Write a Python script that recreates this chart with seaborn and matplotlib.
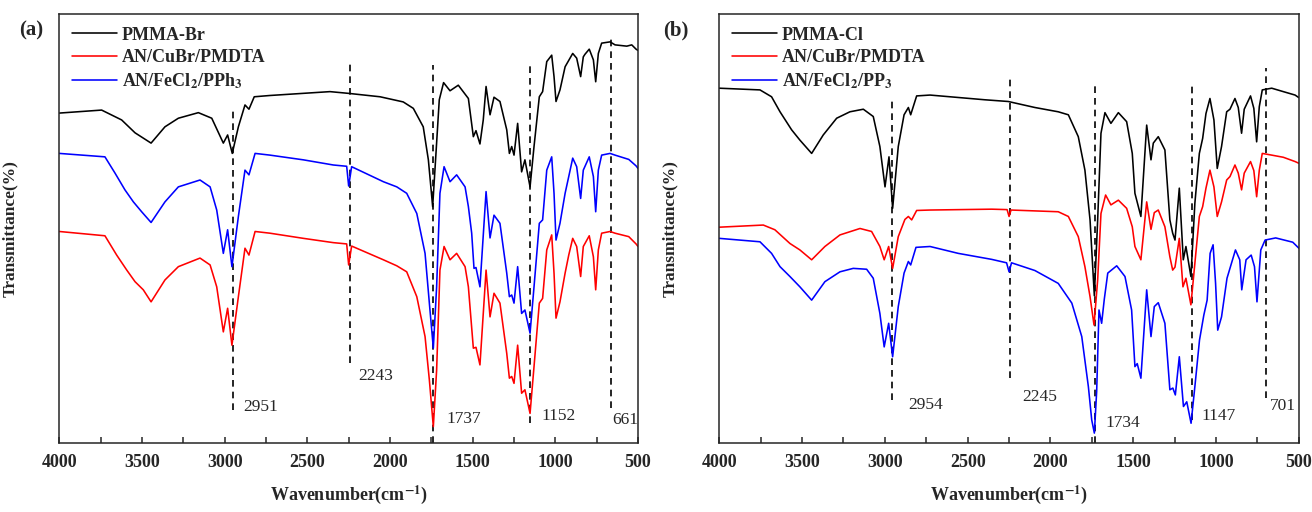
import numpy as np
import pandas as pd
import seaborn as sns
import matplotlib.pyplot as plt
from matplotlib.ticker import MultipleLocator

# %%
# Panel (a) spectra  (wavenumber, transmittance in % of plot height)
a_black_wn = [4000, 3744, 3623, 3542, 3445, 3361, 3280, 3159, 3078, 3008, 2982, 2954, 2917, 2877, 2853, 2821,
              2726, 2363, 2252, 2060, 1920, 1859, 1799, 1768, 1742, 1722, 1702, 1676, 1637, 1587, 1526, 1496,
              1480, 1456, 1436, 1419, 1395, 1371, 1335, 1294, 1278, 1264, 1250, 1228, 1204, 1184, 1153, 1129,
              1097, 1077, 1052, 1022, 1008, 996, 972, 941, 895, 871, 847, 831, 821, 795, 770, 756, 740, 720,
              669, 639, 568, 538, 512, 500]
a_black_t = [76.9, 77.6, 75.3, 72.3, 69.9, 73.7, 75.7, 77.0, 75.7, 69.9, 71.8, 67.5, 73.7, 78.8, 77.8, 80.7,
             81.0, 81.9, 81.5, 80.7, 79.5, 78.0, 73.7, 66.0, 55.1, 67.5, 80.0, 84.0, 82.1, 83.4, 80.3, 71.4,
             72.8, 69.7, 75.3, 83.1, 76.5, 80.6, 79.6, 73.0, 67.5, 69.1, 67.1, 74.5, 63.2, 66.0, 59.7, 69.1,
             80.7, 81.9, 88.9, 90.4, 85.4, 79.6, 82.3, 87.7, 90.8, 89.7, 85.4, 90.0, 90.6, 91.8, 89.3, 84.2, 90.8, 93.2,
             93.5, 92.8, 92.5, 92.8, 91.8, 91.5]

a_blue_wn = [4000, 3724, 3663, 3603, 3552, 3502, 3445, 3361, 3280, 3149, 3088, 3048, 3008, 2982, 2956, 2917,
             2877, 2853, 2816, 2726, 2524, 2343, 2262, 2250, 2232, 2040, 1959, 1899, 1838, 1788, 1762, 1738,
             1718, 1698, 1673, 1637, 1597, 1546, 1526, 1506, 1492, 1480, 1456, 1419, 1395, 1371, 1335, 1294,
             1278, 1264, 1250, 1228, 1204, 1184, 1153, 1129, 1097, 1077, 1052, 1022, 1008, 996, 972, 941,
             919, 895, 871, 847, 831, 795, 770, 756, 740, 720, 669, 639, 556, 512, 500]
a_blue_t = [67.5, 66.7, 62.9, 59.0, 56.2, 53.9, 51.4, 56.2, 59.7, 61.3, 59.7, 54.3, 44.2, 49.7, 41.1, 52.8,
            63.6, 62.5, 67.5, 67.1, 66.0, 64.8, 64.5, 59.9, 64.4, 60.9, 59.7, 58.2, 53.5, 44.2, 32.6, 22.1,
            36.4, 58.2, 64.4, 60.9, 62.5, 59.7, 55.1, 48.9, 40.7, 40.9, 36.4, 58.6, 47.8, 53.1, 51.2, 39.6,
            34.1, 34.5, 32.6, 41.1, 30.2, 31.0, 25.6, 36.4, 51.2, 52.0, 63.6, 66.7, 58.2, 47.3, 51.2, 58.2,
            62.1, 66.4, 64.4, 57.0, 63.6, 66.7, 62.1, 53.9, 63.6, 67.1, 67.5, 67.1, 66.1, 64.6, 64.0]

a_red_wn = [4000, 3724, 3653, 3592, 3542, 3492, 3445, 3361, 3280, 3149, 3088, 3048, 3008, 2982, 2956, 2917,
            2877, 2853, 2816, 2726, 2524, 2343, 2262, 2250, 2232, 2040, 1959, 1899, 1838, 1788, 1762, 1738,
            1718, 1698, 1673, 1637, 1597, 1546, 1526, 1496, 1480, 1456, 1419, 1395, 1371, 1335, 1294, 1278,
            1264, 1250, 1228, 1204, 1184, 1153, 1129, 1097, 1077, 1052, 1022, 1008, 996, 972, 941, 919,
            895, 871, 847, 831, 795, 770, 756, 740, 720, 669, 639, 556, 512, 500]
a_red_t = [49.3, 48.3, 43.8, 40.3, 37.6, 35.7, 32.9, 38.0, 41.1, 43.1, 41.5, 36.4, 25.9, 31.4, 22.8, 34.1,
           45.4, 43.8, 49.3, 48.9, 47.7, 46.7, 46.4, 41.5, 45.9, 42.7, 41.3, 39.9, 34.1, 24.8, 14.7, 3.8,
           17.0, 40.3, 45.8, 42.7, 44.2, 41.1, 36.4, 22.1, 22.3, 18.2, 40.3, 29.4, 34.9, 32.6, 20.9, 15.1,
           15.5, 13.9, 22.8, 11.6, 12.4, 6.9, 17.8, 32.6, 33.7, 45.0, 48.5, 39.6, 29.1, 32.9, 39.6, 43.8,
           47.7, 45.8, 38.8, 45.8, 48.3, 43.4, 35.7, 45.0, 48.9, 49.3, 48.9, 48.1, 46.4, 45.8]

# Panel (b) spectra
b_black_wn = [4000, 3754, 3684, 3633, 3563, 3513, 3442, 3372, 3291, 3211, 3130, 3070, 3030, 2999, 2975, 2953,
              2919, 2884, 2858, 2844, 2808, 2727, 2396, 2255, 2094, 1953, 1892, 1832, 1792, 1761, 1735, 1715,
              1695, 1671, 1635, 1590, 1540, 1506, 1490, 1454, 1419, 1393, 1379, 1349, 1309, 1279, 1262, 1248,
              1222, 1198, 1182, 1152, 1128, 1101, 1081, 1061, 1037, 1013, 993, 967, 936, 916, 886, 866,
              846, 830, 792, 772, 755, 739, 721, 664, 594, 523, 500]
b_black_t = [82.7, 82.3, 80.7, 77.2, 73.0, 70.6, 67.5, 71.8, 75.7, 77.2, 77.8, 76.1, 69.1, 59.7, 66.7, 54.7,
             69.1, 76.5, 78.2, 76.5, 80.9, 81.1, 80.0, 79.6, 78.2, 77.2, 76.5, 71.4, 63.6, 52.0, 34.3, 52.0,
             72.2, 77.0, 74.5, 77.0, 74.9, 67.5, 58.2, 52.8, 74.1, 66.0, 69.9, 71.4, 68.3, 52.0, 48.9, 47.3,
             59.4, 42.7, 45.8, 38.8, 55.9, 67.5, 71.0, 76.8, 80.3, 75.3, 64.0, 69.1, 77.2, 77.8, 80.3, 78.2,
             72.2, 77.8, 80.9, 78.0, 70.2, 78.4, 82.3, 82.7, 81.9, 81.1, 80.5]

b_red_wn = [4000, 3734, 3664, 3573, 3513, 3442, 3362, 3271, 3150, 3080, 3030, 3004, 2977, 2953, 2919, 2879,
            2858, 2838, 2808, 2727, 2355, 2262, 2250, 2238, 1953, 1892, 1832, 1792, 1761, 1737, 1715, 1695,
            1667, 1635, 1590, 1540, 1506, 1490, 1454, 1419, 1393, 1373, 1349, 1309, 1279, 1262, 1248, 1222,
            1200, 1182, 1152, 1128, 1101, 1081, 1061, 1037, 1013, 993, 967, 936, 916, 886, 866, 846,
            830, 792, 772, 755, 739, 721, 664, 594, 523, 500]
b_red_t = [50.3, 50.8, 49.7, 46.5, 45.0, 42.7, 45.8, 48.5, 50.0, 49.3, 45.8, 42.7, 45.8, 40.7, 48.1, 52.1,
           52.8, 52.0, 54.2, 54.3, 54.5, 54.4, 52.8, 54.3, 53.9, 52.8, 48.1, 41.1, 34.1, 27.5, 38.0, 53.5,
           57.8, 55.5, 56.6, 54.7, 50.4, 45.8, 42.7, 56.2, 49.8, 53.7, 54.3, 50.4, 43.4, 40.3, 41.0, 47.7,
           36.4, 38.4, 32.2, 41.9, 52.8, 55.1, 59.4, 63.6, 59.7, 52.8, 56.2, 61.3, 62.1, 64.8, 62.9, 59.0,
           62.9, 65.6, 63.5, 57.4, 63.6, 67.5, 67.1, 66.6, 65.6, 65.2]

b_blue_wn = [4000, 3754, 3684, 3633, 3573, 3513, 3442, 3362, 3271, 3191, 3110, 3070, 3030, 3004, 2977, 2953,
             2919, 2884, 2858, 2844, 2812, 2727, 2557, 2355, 2265, 2250, 2235, 2094, 1953, 1871, 1811, 1771,
             1751, 1735, 1721, 1707, 1691, 1675, 1654, 1600, 1550, 1510, 1490, 1476, 1454, 1419, 1393, 1373,
             1349, 1309, 1279, 1261, 1246, 1222, 1197, 1177, 1151, 1126, 1100, 1074, 1054, 1036, 1018, 1003,
             990, 967, 934, 883, 857, 845, 819, 788, 768, 753, 730, 704, 640, 537, 500]
b_blue_t = [47.7, 46.9, 44.2, 41.1, 38.8, 36.4, 33.3, 37.6, 39.9, 40.7, 40.5, 38.4, 30.2, 22.4, 27.9, 20.1,
            31.8, 39.6, 42.3, 41.5, 45.6, 45.8, 44.2, 42.8, 42.0, 39.9, 42.0, 40.2, 37.2, 32.6, 24.8, 13.1,
            5.4, 2.3, 12.0, 31.0, 27.9, 33.5, 39.6, 41.3, 38.8, 31.0, 17.8, 18.5, 15.1, 35.7, 24.8, 31.8,
            32.7, 27.9, 12.4, 12.8, 11.2, 20.1, 8.5, 9.6, 4.6, 13.9, 24.0, 29.8, 33.3, 44.2, 46.2, 37.2,
            26.3, 29.4, 38.4, 45.0, 42.7, 35.7, 42.7, 43.8, 41.1, 32.9, 45.0, 47.3, 47.8, 46.8, 45.4]

# Marked peaks (dashed lines + labels)
a_peaks = [2951, 2243, 1737, 1152, 661]
b_peaks = [2954, 2245, 1734, 1147, 701]

a_names = ["PMMA-Br", "AN/CuBr/PMDTA", r"AN/FeCl$_\mathbf{2}$/PPh$_\mathbf{3}$"]
b_names = ["PMMA-Cl", "AN/CuBr/PMDTA", r"AN/FeCl$_\mathbf{2}$/PP$_\mathbf{3}$"]
colors = ["black", "red", "blue"]

# dashed line extent and label placement (layout)
a_line_top = [78.4, 88.9, 88.1, 88.5, 95.1]
a_line_bot = [7.7, 18.6, 0, 4.7, 8.2]
a_txt_dx = [-65, -50, -80, -65, -8]
a_txt_y = [8.5, 15.5, 5.5, 6.3, 5.4]
b_line_top = [80.0, 85.5, 84.2, 83.1, 87.3]
b_line_bot = [10.0, 15.1, 0, 5.4, 10.5]
b_txt_dx = [-96, -72, -67, -60, -23]
b_txt_y = [8.9, 10.8, 4.7, 6.4, 8.6]

# %%
sns.set_style("ticks")
plt.rcParams['font.family'] = ['Liberation Serif', 'DejaVu Serif']
plt.rcParams['mathtext.fontset'] = 'stix'
plt.rcParams['axes.linewidth'] = 1.1

fig = plt.figure(figsize=(13.12, 5.12), dpi=100)
ax_a = fig.add_axes([0.0452, 0.1348, 0.4411, 0.8379])
ax_b = fig.add_axes([0.5482, 0.1348, 0.4418, 0.8379])


def draw_panel(ax, series, names, peaks, top, bot, dx, ty, letter, lx):
    rows = []
    for (wn, t), name in zip(series, names):
        rows.append(pd.DataFrame({"wn": wn, "t": t, "sample": name}))
    df = pd.concat(rows, ignore_index=True)
    sns.lineplot(data=df, x="wn", y="t", hue="sample", hue_order=names,
                 palette=dict(zip(names, colors)), estimator=None, sort=True,
                 linewidth=1.15, ax=ax)

    for p, y0, y1, d, y in zip(peaks, bot, top, dx, ty):
        ax.plot([p, p], [y0, y1], color="black", lw=1.2, ls=(0, (4, 3)), zorder=1)
        ax.text(p + d, y, str(p), ha="left", va="center", fontsize=12.5)

    ax.set_xlim(4000, 500)
    ax.set_ylim(0, 100)
    ax.xaxis.set_major_locator(MultipleLocator(500))
    ax.xaxis.set_minor_locator(MultipleLocator(250))
    ax.tick_params(axis="x", which="both", direction="in", length=4, width=1.1, pad=8,
                   top=False, labelsize=13)
    ax.tick_params(axis="y", left=False, labelleft=False)
    for lab in ax.get_xticklabels():
        lab.set_fontweight("bold")
    for s in ax.spines.values():
        s.set_visible(True)
        s.set_linewidth(1.1)

    ax.set_xlabel(r"Wavenumber(cm$^{\mathbf{-1}}$)", fontsize=13, fontweight="bold", labelpad=9)
    ax.set_ylabel("Transmittance(%)", fontsize=12.5, fontweight="bold")
    ax.yaxis.set_label_coords(-0.071, 0.5)

    handles, labels = ax.get_legend_handles_labels()
    ax.legend(handles, labels, loc="upper left", frameon=False,
              prop={"weight": "bold", "size": 13}, handlelength=2.5,
              handletextpad=0.25, labelspacing=0.3, borderaxespad=0.3)
    fig.text(lx, 0.941, letter, ha="center", va="center", fontsize=15, fontweight="bold")


draw_panel(ax_a, [(a_black_wn, a_black_t), (a_red_wn, a_red_t), (a_blue_wn, a_blue_t)], a_names,
           a_peaks, a_line_top, a_line_bot, a_txt_dx, a_txt_y, "(a)", 0.0236)
draw_panel(ax_b, [(b_black_wn, b_black_t), (b_red_wn, b_red_t), (b_blue_wn, b_blue_t)], b_names,
           b_peaks, b_line_top, b_line_bot, b_txt_dx, b_txt_y, "(b)", 0.5152)

fig.savefig("out.png", dpi=100)
